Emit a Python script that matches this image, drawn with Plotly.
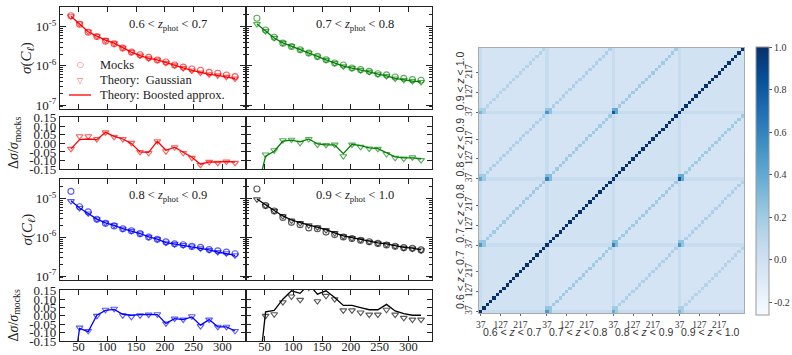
import plotly.graph_objects as go

W, H = 792, 355

# ---------------- data ----------------
ell = [37, 52, 67, 82, 97, 112, 127, 142, 157, 172, 187, 202, 217, 232, 247, 262, 277, 292, 307, 322]

bin_labels = ["0.6", "0.7", "0.8", "0.9", "1.0"]
colors = ["#ff0000", "#008000", "#0000ff", "#000000"]

mocks_red = [1.9e-5, 1.15e-5, 7.2e-6, 5.6e-6, 4.26e-6, 3.64e-6, 2.83e-6, 2.24e-6, 1.92e-6, 1.64e-6,
             1.41e-6, 1.25e-6, 1.05e-6, 9.3e-7, 8.3e-7, 7.7e-7, 6.8e-7, 6.45e-7, 5.86e-7, 5.32e-7]
mocks_green = [1.63e-5, 8.2e-6, 5.37e-6, 3.79e-6, 3.12e-6, 2.57e-6, 2.11e-6, 1.74e-6, 1.43e-6, 1.18e-6,
               1.05e-6, 8.8e-7, 8.0e-7, 7.25e-7, 6.3e-7, 5.87e-7, 5.2e-7, 4.8e-7, 4.45e-7, 4.3e-7]
mocks_blue = [1.52e-5, 6.1e-6, 4.51e-6, 2.92e-6, 2.28e-6, 1.96e-6, 1.65e-6, 1.47e-6, 1.24e-6, 1.01e-6,
              8.85e-7, 7.6e-7, 6.78e-7, 6.41e-7, 5.82e-7, 5.5e-7, 4.82e-7, 4.47e-7, 4.14e-7, 3.77e-7]
mocks_black = [1.75e-5, 6.56e-6, 4.73e-6, 3.22e-6, 2.42e-6, 2.11e-6, 1.74e-6, 1.65e-6, 1.36e-6, 1.17e-6,
               1.02e-6, 9.26e-7, 8.41e-7, 7.64e-7, 6.95e-7, 6.31e-7, 5.85e-7, 5.41e-7, 5.21e-7, 4.73e-7]

# relative differences (theory - mocks)/mocks
boost_red = [-0.032, 0.022, 0.026, 0.022, 0.065, 0.042, 0.026, -0.001, -0.05, -0.052,
             0.013, -0.04, -0.022, -0.052, -0.081, -0.122, -0.108, -0.11, -0.106, -0.11]
gauss_red = [-0.032, 0.042, 0.042, 0.026, 0.065, 0.038, 0.026, 0.003, -0.05, -0.056,
             0.013, -0.046, -0.022, -0.056, -0.085, -0.126, -0.108, -0.114, -0.106, -0.114]
boost_green = [-0.28, -0.075, -0.046, 0.013, 0.019, 0.009, 0.026, -0.003, -0.009, -0.009,
               -0.06, -0.005, -0.013, -0.026, -0.03, -0.056, -0.079, -0.085, -0.085, -0.09]
gauss_green = [-0.29, -0.065, -0.04, 0.019, 0.022, 0.003, 0.026, -0.007, -0.009, -0.007,
               -0.075, -0.007, -0.02, -0.03, -0.032, -0.062, -0.085, -0.089, -0.082, -0.098]
boost_blue = [-0.43, -0.075, -0.094, 0.004, 0.033, 0.039, 0.01, 0.004, 0.008, 0.008,
              0.008, -0.045, -0.016, -0.022, -0.006, -0.055, -0.022, -0.065, -0.065, -0.09]
gauss_blue = [-0.44, -0.07, -0.09, 0.0, 0.037, 0.043, 0.004, -0.006, 0.004, 0.008,
              0.01, -0.045, -0.016, -0.022, -0.002, -0.061, -0.022, -0.065, -0.065, -0.09]
boost_black = [-0.45, 0.024, 0.033, 0.1, 0.15, 0.135, 0.19, 0.13, 0.15, 0.11,
               0.063, 0.063, 0.05, 0.037, 0.037, 0.069, 0.03, 0.014, 0.004, 0.004]
gauss_black = [-0.46, 0.0, 0.01, 0.082, 0.116, 0.096, 0.17, 0.088, 0.12, 0.1,
               0.033, 0.033, 0.02, 0.008, 0.008, 0.037, 0.008, -0.012, -0.022, -0.022]

mocks_all = [mocks_red, mocks_green, mocks_blue, mocks_black]
boost_all = [boost_red, boost_green, boost_blue, boost_black]
gauss_all = [gauss_red, gauss_green, gauss_blue, gauss_black]

legend_labels = ["Mocks", "Theory:  Gaussian", "Theory: Boosted approx."]

# correlation matrix description
n_bins = 20
n_z = 4
bg_same_block = -0.02
bg_cross_block = -0.035
auto_corr = 1.0
cross_diag_by_sep = [1.0, 0.2, 0.15, 0.12]
first_bin_cross = [[1.0, 0.48, 0.4, 0.32],
                   [0.48, 1.0, 0.6, 0.5],
                   [0.4, 0.6, 1.0, 0.8],
                   [0.32, 0.5, 0.8, 1.0]]
first_bin_stripe = 0.05
first_bin_neighbor_ratio = 0.5
ell_tick_labels = ["37", "127", "217"]
ell_tick_index = [0, 6, 12]
cbar_ticks = [-0.2, 0.0, 0.2, 0.4, 0.6, 0.8, 1.0]

# ---------------- helpers ----------------
def xd(a, b):
    return [a / W, b / W]

def yd(top, bottom):
    return [1 - bottom / H, 1 - top / H]

def note(x, y, text, size, family, color="#222", angle=0, xanchor="center"):
    return dict(x=x / W, y=1 - y / H, xref="paper", yref="paper", showarrow=False,
                xanchor=xanchor, yanchor="middle", textangle=angle, text=text,
                borderpad=0, font=dict(family=family, size=size, color=color))

SERIF = "Liberation Serif"
AX = "#222222"
cols = [(60, 246), (246, 432)]
rows_main = [(7, 109), (179, 280)]
rows_res = [(117, 169), (290, 341)]

base_axis = dict(showline=True, linecolor=AX, linewidth=1.3, mirror="allticks",
                 ticks="inside", ticklen=5, tickwidth=1, tickcolor=AX,
                 showgrid=False, zeroline=False, automargin=False,
                 tickfont=dict(family=SERIF, size=13, color="#222"))

fig = go.Figure()
layout = {}

minor_vals = [k * 10.0 ** e for e in (-8, -7, -6, -5) for k in range(2, 10)]

for p in range(4):
    c, r = p % 2, p // 2
    col = colors[p]
    xm, ym = f"x{2*p+1}", f"y{2*p+1}"
    xr, yr = f"x{2*p+2}", f"y{2*p+2}"
    mocks = mocks_all[p]
    th_b = [m * (1 + d) for m, d in zip(mocks, boost_all[p])]
    th_g = [m * (1 + d) for m, d in zip(mocks, gauss_all[p])]
    fig.add_trace(go.Scatter(x=ell, y=mocks, mode="markers", showlegend=False,
                             marker=dict(symbol="circle-open", size=6, color=col, opacity=0.65,
                                         line=dict(width=1.1, color=col)),
                             xaxis=xm, yaxis=ym))
    fig.add_trace(go.Scatter(x=ell, y=th_g, mode="markers", showlegend=False,
                             marker=dict(symbol="triangle-down-open", size=6, color=col, opacity=0.65,
                                         line=dict(width=1.1, color=col)),
                             xaxis=xm, yaxis=ym))
    fig.add_trace(go.Scatter(x=ell, y=th_b, mode="lines", showlegend=False,
                             line=dict(color=col, width=1.3), xaxis=xm, yaxis=ym))
    fig.add_trace(go.Scatter(x=ell, y=gauss_all[p], mode="markers", showlegend=False,
                             marker=dict(symbol="triangle-down-open", size=6, color=col, opacity=0.65,
                                         line=dict(width=1.1, color=col)),
                             xaxis=xr, yaxis=yr))
    fig.add_trace(go.Scatter(x=ell, y=boost_all[p], mode="lines", showlegend=False,
                             line=dict(color=col, width=1.3), xaxis=xr, yaxis=yr))

    xname_m = "xaxis" if p == 0 else f"xaxis{2*p+1}"
    yname_m = "yaxis" if p == 0 else f"yaxis{2*p+1}"
    layout[xname_m] = dict(base_axis, domain=xd(*cols[c]), range=[18, 341], anchor=ym,
                           tickvals=[50, 100, 150, 200, 250, 300], showticklabels=False)
    layout[yname_m] = dict(base_axis, domain=yd(*rows_main[r]), type="log", range=[-7.1, -4.5],
                           anchor=xm, tickvals=[1e-7, 1e-6, 1e-5],
                           ticktext=["10<sup>-7</sup>", "10<sup>-6</sup>", "10<sup>-5</sup>"],
                           showticklabels=(c == 0), ticklen=6,
                           minor=dict(ticks="inside", ticklen=3, tickcolor=AX, tickmode="array",
                                      tickvals=minor_vals, showgrid=False))
    layout[f"xaxis{2*p+2}"] = dict(base_axis, domain=xd(*cols[c]), range=[18, 341], anchor=yr,
                                   tickvals=[50, 100, 150, 200, 250, 300],
                                   showticklabels=(r == 1), ticklabelstandoff=-6,
                                   tickfont=dict(family=SERIF, size=12.5, color="#222"))
    layout[f"yaxis{2*p+2}"] = dict(base_axis, domain=yd(*rows_res[r]), range=[-0.15, 0.155], anchor=xr,
                                   tickvals=[-0.15, -0.1, -0.05, 0.0, 0.05, 0.1, 0.15],
                                   ticktext=["-0.15", "-0.10", "-0.05", "0.00", "0.05", "0.10", "0.15"],
                                   showticklabels=(c == 0))

# ---------------- correlation heatmap ----------------
N = n_bins * n_z
corr = []
for i in range(N):
    bi, ki = divmod(i, n_bins)
    row = []
    for j in range(N):
        bj, kj = divmod(j, n_bins)
        v = bg_same_block if bi == bj else bg_cross_block
        if ki == 0 or kj == 0:
            v = max(v, first_bin_stripe)
        if ki == kj:
            v = auto_corr if bi == bj else max(v, cross_diag_by_sep[abs(bi - bj)])
        if bi != bj and ki <= 1 and kj <= 1:
            f = first_bin_cross[bi][bj]
            v = f if (ki == 0 and kj == 0) else max(v, f * first_bin_neighbor_ratio)
        row.append(v)
    corr.append(row)

fig.add_trace(go.Heatmap(z=corr, x=list(range(N)), y=list(range(N)), colorscale="Blues",
                         zmin=-0.26, zmax=1.0, xaxis="x9", yaxis="y9", showscale=True,
                         colorbar=dict(x=756 / W, xanchor="left", y=1 - 47 / H, yanchor="top",
                                       len=268 / H, lenmode="fraction", thickness=13,
                                       xpad=0, ypad=0,
                                       outlinecolor="#999", outlinewidth=1,
                                       tickvals=cbar_ticks,
                                       ticktext=["-0.2", "0.0", "0.2", "0.4", "0.6", "0.8", "1.0"],
                                       ticks="outside", ticklen=3, tickcolor="#555",
                                       tickfont=dict(family=SERIF, size=10, color="#333"))))

hm_tickvals = [b * n_bins + k for b in range(n_z) for k in ell_tick_index]
hm_ticktext = ell_tick_labels * n_z
hm_axis = dict(showline=True, linecolor="#aaaaaa", linewidth=1.2, mirror=True, showgrid=False,
               zeroline=False, ticks="outside", ticklen=2, tickcolor="#666", automargin=False,
               tickvals=hm_tickvals, ticktext=hm_ticktext, range=[-0.5, N - 0.5],
               tickfont=dict(family=SERIF, size=9.5, color="#333"))
layout["xaxis9"] = dict(hm_axis, domain=xd(479, 744), anchor="y9")
layout["yaxis9"] = dict(hm_axis, domain=yd(48, 313), anchor="x9", tickangle=-90)

# ---------------- annotations ----------------
ann = []
shapes = []
panel_pos = [(168, 25), (355, 25), (168, 196), (355, 196)]
for p in range(4):
    x, y = panel_pos[p]
    ann.append(note(x, y, f"{bin_labels[p]} &lt; <i>z</i><sub>phot</sub> &lt; {bin_labels[p+1]}",
                    12.5, SERIF))
for r in range(2):
    ym = (rows_main[r][0] + rows_main[r][1]) / 2
    yr = (rows_res[r][0] + rows_res[r][1]) / 2
    ann.append(note(27, ym, "<i>σ</i>(<i>C</i><sub><i>ℓ</i></sub>)", 15, SERIF, angle=-90))
    ann.append(note(14, yr, "Δ<i>σ</i>/<i>σ</i><sub>mocks</sub>", 14, SERIF, angle=-90))
for b in range(n_z):
    cx = 479 + (b + 0.5) * 265 / n_z
    cy = 313 - (b + 0.5) * 265 / n_z
    txt = f"{bin_labels[b]} &lt; <i>z</i> &lt; {bin_labels[b+1]}"
    ann.append(note(cx, 332, txt, 10.5, "Liberation Sans", "#333"))
    ann.append(note(460, cy, txt, 10.5, "Liberation Sans", "#333", angle=-90))

# legend (drawn by hand to match the compact matplotlib spacing)
leg_rows = [65, 80, 95]
leg_symbols = ["○", "▽", None]
for lbl, yy, sym in zip(legend_labels, leg_rows, leg_symbols):
    ann.append(note(99, yy, lbl, 12.5, SERIF, xanchor="left"))
    if sym:
        ann.append(note(80, yy, sym, 8, "DejaVu Sans", "rgba(255,0,0,0.75)"))
    else:
        shapes.append(dict(type="line", xref="paper", yref="paper", x0=69 / W, x1=91 / W,
                           y0=1 - yy / H, y1=1 - yy / H, line=dict(color=colors[0], width=1.3)))

fig.update_layout(
    width=W, height=H, margin=dict(l=0, r=0, t=0, b=0, autoexpand=False),
    paper_bgcolor="white", plot_bgcolor="white",
    annotations=ann, shapes=shapes, showlegend=False,
    **layout,
)

fig.write_html("out.html", config={"displayModeBar": False},
               post_script="document.body.style.margin='0';document.body.style.overflow='hidden';")
